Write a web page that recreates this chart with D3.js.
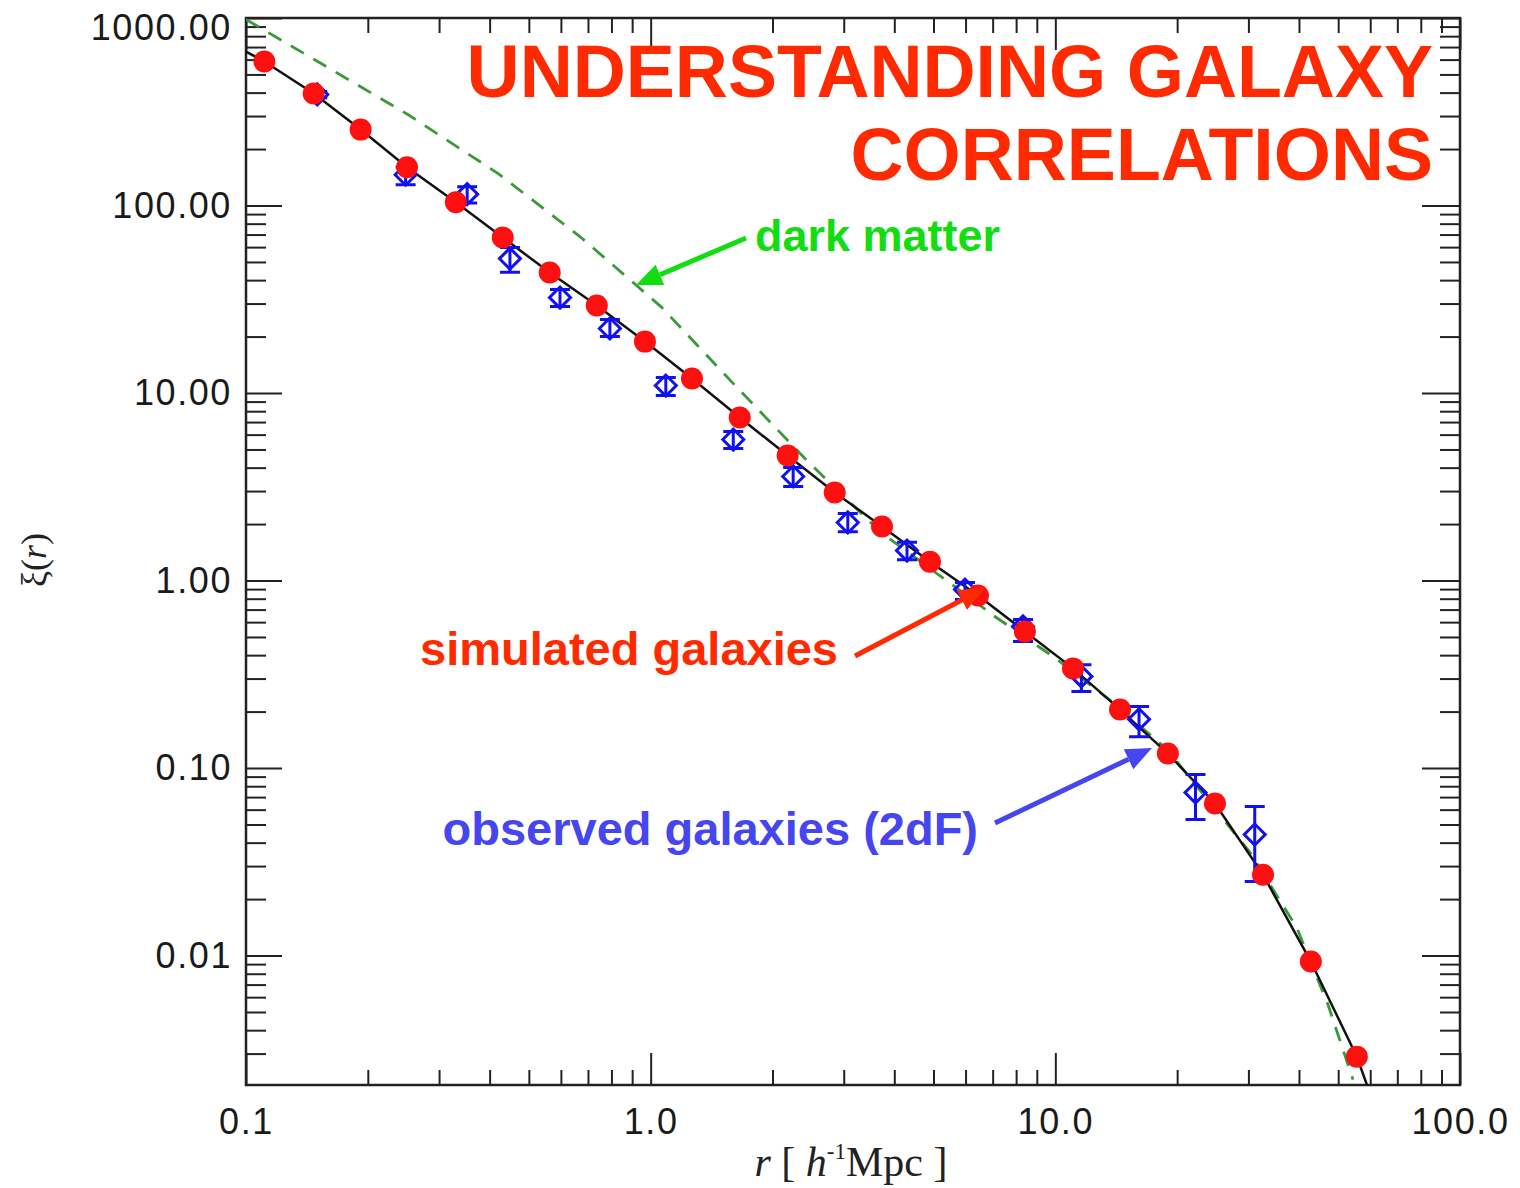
<!DOCTYPE html>
<html>
<head>
<meta charset="utf-8">
<script src="https://cdn.jsdelivr.net/npm/d3@7"></script>
<style>
  body { margin: 0; background: #fff; }
  svg { display: block; }
</style>
</head>
<body>
<svg id="chart" width="1520" height="1188"></svg>
<script>
// tick values / labels
const xMajor = [0.1, 1, 10, 100];
const xMajorLabels = ['0.1', '1.0', '10.0', '100.0'];
const yMajor = [1000, 100, 10, 1, 0.1, 0.01];
const yMajorLabels = ['1000.00', '100.00', '10.00', '1.00', '0.10', '0.01'];

// simulated galaxies (red dots)
const simR  = [0.111, 0.147, 0.192, 0.250, 0.330, 0.431, 0.563, 0.736, 0.968, 1.265, 1.66, 2.18,
               2.85, 3.73, 4.90, 6.44, 8.41, 11.06, 14.45, 18.97, 24.8, 32.6, 42.8, 55.6];
const simXi = [586, 396, 254, 160, 104, 67.5, 43.9, 29.3, 18.8, 11.95, 7.40, 4.64,
               2.95, 1.94, 1.26, 0.832, 0.535, 0.340, 0.205, 0.1195, 0.0647, 0.0270, 0.00929, 0.00289];

// black model curve through the simulated points
const lineR  = [0.1, 0.111, 0.147, 0.192, 0.250, 0.330, 0.431, 0.563, 0.736, 0.968, 1.265, 1.66, 2.18,
                2.85, 3.73, 4.90, 6.44, 8.41, 11.06, 14.45, 18.97, 24.8, 32.6, 42.8, 55.6, 58.9];
const lineXi = [662, 586, 396, 254, 160, 104, 67.5, 43.9, 29.3, 18.8, 11.95, 7.40, 4.64,
                2.95, 1.94, 1.26, 0.832, 0.535, 0.340, 0.205, 0.1195, 0.0647, 0.0270, 0.00929, 0.00289, 0.00204];

// dark matter (green dashed)
const dmR  = [0.1, 0.149, 0.251, 0.420, 0.673, 1.06, 1.59, 2.42, 3.69, 5.19, 7.09, 9.86,
              13.6, 18.9, 30.3, 39.5, 47.2, 54.4];
const dmXi = [982, 593, 306, 148, 67.5, 28.9, 11.4, 4.42, 1.82, 1.06, 0.643, 0.394,
              0.232, 0.1255, 0.0354, 0.0141, 0.00546, 0.00218];

// observed galaxies, 2dF (blue diamonds with error bars)
const obsR   = [0.150, 0.248, 0.352, 0.449, 0.597, 0.793, 1.09, 1.60, 2.25, 3.07, 4.30, 5.98,
                8.32, 11.6, 16.1, 22.2, 31.1];
const obsXi  = [391, 146, 115, 52.1, 32.3, 22.1, 10.96, 5.65, 3.59, 2.04, 1.445, 0.895,
                0.569, 0.308, 0.182, 0.0740, 0.0442];
const obsLo  = [375, 129, 103, 44.0, 28.9, 20.0, 9.70, 5.06, 3.17, 1.82, 1.29, 0.792,
                0.473, 0.256, 0.147, 0.0531, 0.0248];
const obsHi  = [405, 160, 126, 59.7, 35.6, 24.7, 12.1, 6.24, 4.01, 2.28, 1.60, 0.975,
                0.619, 0.356, 0.213, 0.0923, 0.0624];

const svg = d3.select('#chart');
const mLeft = 246, mRight = 1460, mTop = 18, mBottom = 1085;

const x = d3.scaleLog().domain([0.1, 100]).range([mLeft, mRight]);
const y = d3.scaleLog().domain([0.00204, 1000]).range([mBottom, mTop]);

function minors(lo, hi) {
  let out = [];
  for (let e = Math.floor(Math.log10(lo)); e <= Math.ceil(Math.log10(hi)); e++) {
    for (let m = 2; m <= 9; m++) {
      let v = m * Math.pow(10, e);
      if (v > lo && v < hi) out.push(v);
    }
  }
  return out;
}
const xMinor = minors(0.1, 100);
const yMinor = minors(0.00204, 1000);

const tickFont = 'Liberation Sans, Arial, sans-serif';

function styleAxis(g) {
  g.select('.domain').remove();
  g.selectAll('.tick line').attr('stroke', '#222').attr('stroke-width', 2);
  g.selectAll('.tick text')
    .attr('fill', '#1a1a1a')
    .style('font-family', tickFont)
    .style('font-size', '36px')
    .style('letter-spacing', '1.6px');
}

// bottom axis
svg.append('g').attr('transform', `translate(0,${mBottom})`)
  .call(d3.axisBottom(x).tickValues(xMajor).tickSizeInner(-32).tickSizeOuter(0).tickPadding(23)
    .tickFormat((d, i) => xMajorLabels[i]))
  .call(styleAxis);
svg.append('g').attr('transform', `translate(0,${mBottom})`)
  .call(d3.axisBottom(x).tickValues(xMinor).tickSizeInner(-15).tickSizeOuter(0).tickFormat(''))
  .call(styleAxis);
// top axis
svg.append('g').attr('transform', `translate(0,${mTop})`)
  .call(d3.axisTop(x).tickValues(xMajor).tickSizeInner(-32).tickSizeOuter(0).tickFormat(''))
  .call(styleAxis);
svg.append('g').attr('transform', `translate(0,${mTop})`)
  .call(d3.axisTop(x).tickValues(xMinor).tickSizeInner(-15).tickSizeOuter(0).tickFormat(''))
  .call(styleAxis);
// left axis
const yAxisG = svg.append('g').attr('transform', `translate(${mLeft},0)`)
  .call(d3.axisLeft(y).tickValues(yMajor).tickSizeInner(-36).tickSizeOuter(0).tickPadding(14)
    .tickFormat((d, i) => yMajorLabels[i]))
  .call(styleAxis);
// top label sits a bit below its tick so it is not clipped
yAxisG.selectAll('.tick text').filter(d => d === 1000).attr('y', 10);
svg.append('g').attr('transform', `translate(${mLeft},0)`)
  .call(d3.axisLeft(y).tickValues(yMinor).tickSizeInner(-20).tickSizeOuter(0).tickFormat(''))
  .call(styleAxis);
// right axis
svg.append('g').attr('transform', `translate(${mRight},0)`)
  .call(d3.axisRight(y).tickValues(yMajor).tickSizeInner(-38).tickSizeOuter(0).tickFormat(''))
  .call(styleAxis);
svg.append('g').attr('transform', `translate(${mRight},0)`)
  .call(d3.axisRight(y).tickValues(yMinor).tickSizeInner(-20).tickSizeOuter(0).tickFormat(''))
  .call(styleAxis);

// frame
svg.append('rect')
  .attr('x', mLeft).attr('y', mTop).attr('width', mRight - mLeft).attr('height', mBottom - mTop)
  .attr('fill', 'none').attr('stroke', '#222').attr('stroke-width', 2.5);

// clip for curves
svg.append('clipPath').attr('id', 'plotclip')
  .append('rect').attr('x', mLeft).attr('y', mTop).attr('width', mRight - mLeft).attr('height', mBottom - mTop);

const plot = svg.append('g').attr('clip-path', 'url(#plotclip)');
const line = d3.line().x(d => x(d[0])).y(d => y(d[1]));

plot.append('path')
  .datum(dmR.map((r, i) => [r, dmXi[i]]))
  .attr('d', line)
  .attr('fill', 'none').attr('stroke', '#3a9a3a').attr('stroke-width', 2.8)
  .attr('stroke-dasharray', '15,11');

plot.append('path')
  .datum(lineR.map((r, i) => [r, lineXi[i]]))
  .attr('d', line)
  .attr('fill', 'none').attr('stroke', '#111').attr('stroke-width', 2.5);

// observed
const obs = obsR.map((r, i) => ({ r, xi: obsXi[i], lo: obsLo[i], hi: obsHi[i] }));
const og = plot.append('g').attr('stroke', '#1010f0').attr('stroke-width', 3).attr('fill', 'none');
const cap = 10, ds = 10.5;
og.selectAll('.err').data(obs).join('path')
  .attr('d', d => {
    const cx = x(d.r), y0 = y(d.hi), y1 = y(d.lo);
    return `M${cx},${y0}V${y1}M${cx - cap},${y0}H${cx + cap}M${cx - cap},${y1}H${cx + cap}`;
  });
og.selectAll('.dia').data(obs).join('path')
  .attr('d', d => {
    const cx = x(d.r), cy = y(d.xi);
    return `M${cx - ds},${cy}L${cx},${cy - ds}L${cx + ds},${cy}L${cx},${cy + ds}Z`;
  });

// simulated
plot.append('g').selectAll('circle')
  .data(simR.map((r, i) => [r, simXi[i]]))
  .join('circle')
  .attr('cx', d => x(d[0])).attr('cy', d => y(d[1])).attr('r', 11)
  .attr('fill', '#ff1010');

// axis titles
svg.append('text')
  .attr('x', 851).attr('y', 1176).attr('text-anchor', 'middle')
  .style('font-family', 'Liberation Serif, Times New Roman, serif').style('font-size', '42px')
  .attr('fill', '#222')
  .call(t => {
    t.append('tspan').style('font-style', 'italic').text('r');
    t.append('tspan').text(' [ ');
    t.append('tspan').style('font-style', 'italic').text('h');
    t.append('tspan').attr('dy', -17).style('font-size', '23px').text('-1');
    t.append('tspan').attr('dy', 17).text('Mpc ]');
  });

svg.append('text')
  .attr('transform', 'translate(46,560) rotate(-90)').attr('text-anchor', 'middle')
  .style('font-family', 'Liberation Serif, Times New Roman, serif').style('font-size', '36px')
  .attr('fill', '#222')
  .call(t => {
    t.append('tspan').text('ξ(');
    t.append('tspan').style('font-style', 'italic').text('r');
    t.append('tspan').text(')');
  });

// title
const boldFont = 'Liberation Sans, Arial, sans-serif';
const title = svg.append('g')
  .style('font-family', boldFont).style('font-weight', 'bold').style('font-size', '73.5px')
  .attr('fill', '#ff2a00').attr('text-anchor', 'end');
title.append('text').attr('x', 1433).attr('y', 97).text('UNDERSTANDING GALAXY');
title.append('text').attr('x', 1433).attr('y', 180).text('CORRELATIONS');

// annotations
function arrow(x1, y1, x2, y2, color) {
  const ang = Math.atan2(y2 - y1, x2 - x1);
  const hl = 26, hw = 11;
  const bx = x2 - hl * Math.cos(ang), by = y2 - hl * Math.sin(ang);
  svg.append('line')
    .attr('x1', x1).attr('y1', y1).attr('x2', bx).attr('y2', by)
    .attr('stroke', color).attr('stroke-width', 5);
  const px = -Math.sin(ang) * hw, py = Math.cos(ang) * hw;
  svg.append('path')
    .attr('d', `M${x2},${y2}L${bx + px},${by + py}L${bx - px},${by - py}Z`)
    .attr('fill', color);
}

const notes = svg.append('g')
  .style('font-family', boldFont).style('font-weight', 'bold');
notes.append('text').attr('x', 755).attr('y', 251).style('font-size', '45px')
  .attr('fill', '#11dd11').text('dark matter');
arrow(746, 238, 636, 285, '#11dd11');

notes.append('text').attr('x', 838).attr('y', 665).attr('text-anchor', 'end').style('font-size', '47px')
  .attr('fill', '#ff2a00').text('simulated galaxies');
arrow(855, 656, 985, 588, '#ff2a00');

notes.append('text').attr('x', 978).attr('y', 845).attr('text-anchor', 'end').style('font-size', '47px')
  .attr('fill', '#4646f0').text('observed galaxies (2dF)');
arrow(995, 823, 1152, 748, '#4646f0');
</script>
</body>
</html>
